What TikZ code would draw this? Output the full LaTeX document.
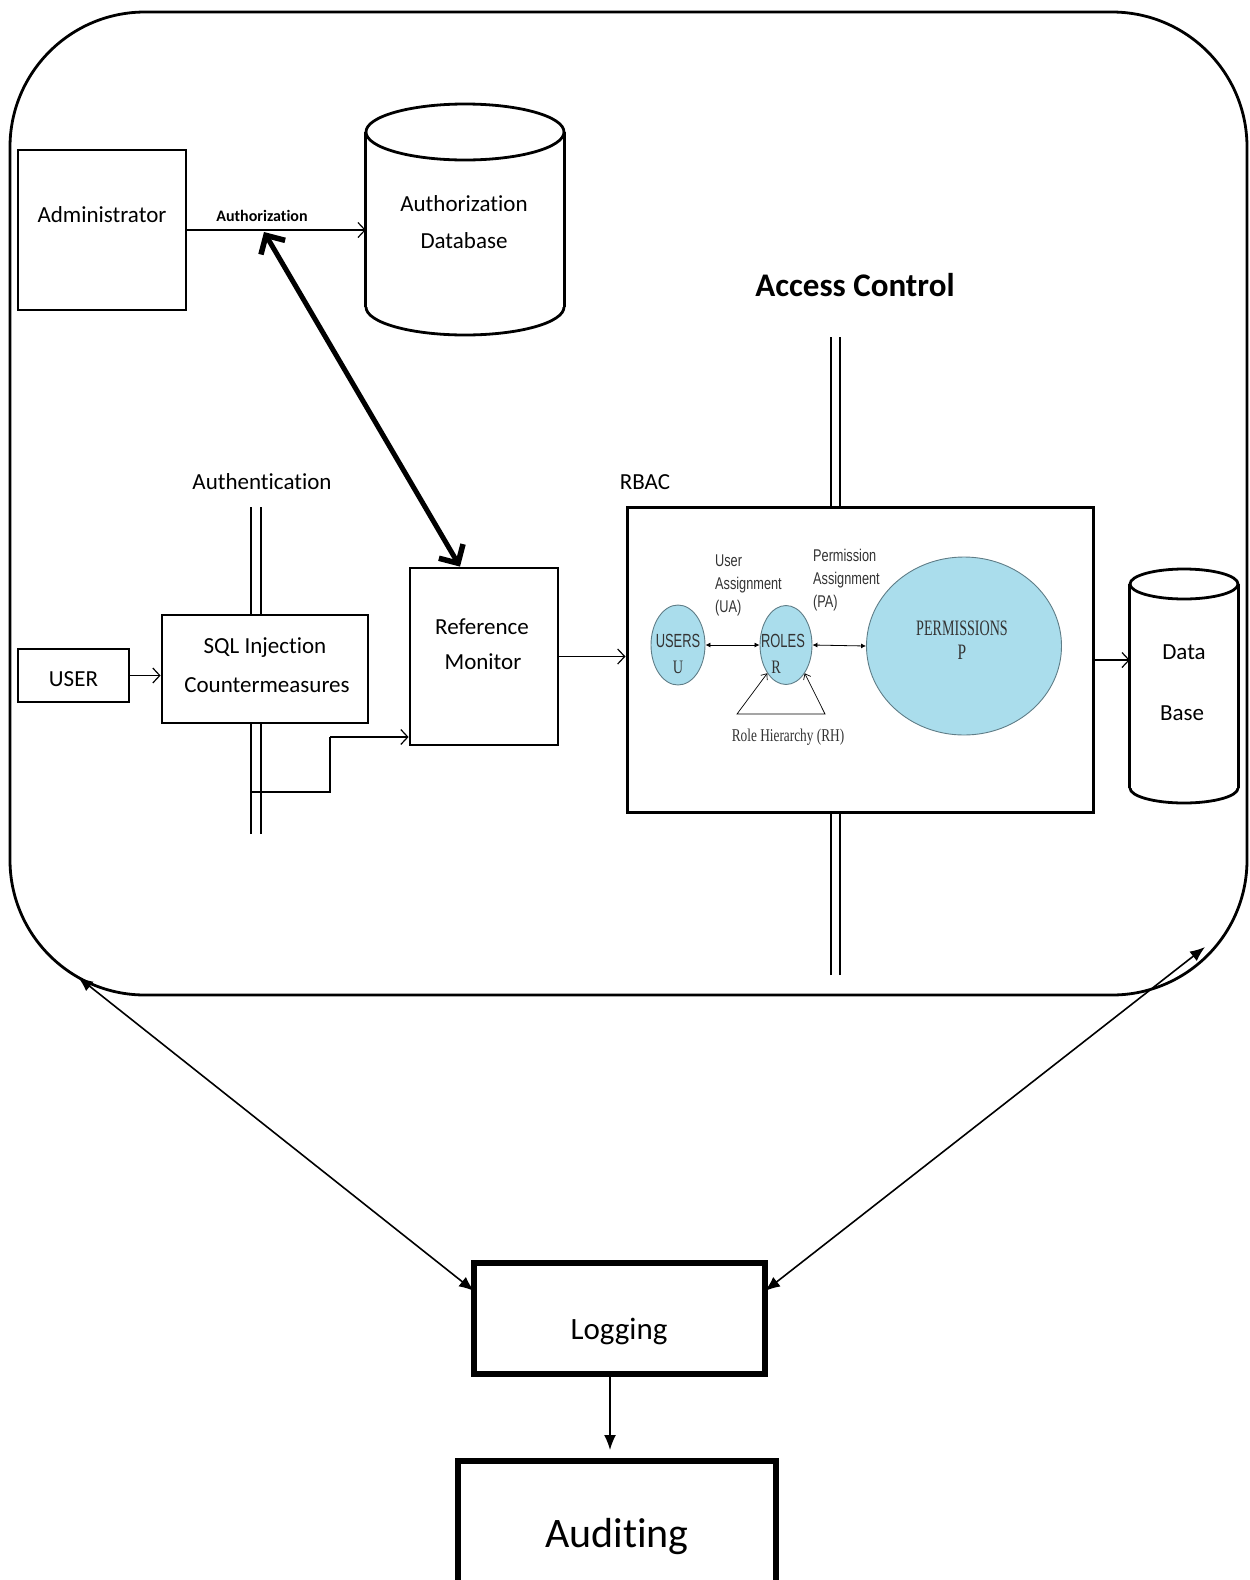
\documentclass[tikz,border=0pt]{standalone}
\usepackage{fontspec}
\setmainfont{Carlito}[Ligatures=NoCommon]
\newfontfamily\rbsans{Liberation Sans}
\newfontfamily\rbserif{Liberation Serif}
\usetikzlibrary{arrows.meta,shapes.geometric}
\definecolor{rbfill}{RGB}{170,221,236}
\definecolor{rbedge}{RGB}{95,125,135}
\begin{document}
\begin{tikzpicture}[x=1pt,y=-1pt,
  blk/.style={draw, line width=2.8pt, inner sep=0pt},
  txt/.style={inner sep=0pt, font=\fontsize{23pt}{28pt}\selectfont},
  thinarr/.style={line width=1.3pt, -{Straight Barb[length=7pt,width=15pt,line width=1.2pt]}},
  bigarr/.style={line width=1.6pt, {Latex[length=15pt,width=12pt]}-{Latex[length=15pt,width=12pt]}},
  rbell/.style={ellipse, draw=rbedge, fill=rbfill, line width=0.9pt, inner sep=0pt},
  rbarr/.style={line width=0.8pt, {Latex[length=5pt,width=5pt]}-{Latex[length=5pt,width=5pt]}},
  rbtxt/.style={inner sep=0pt, text=black!80},
  dline/.style={line width=1.3pt}
]
\useasboundingbox (0,0) rectangle (1250,1580);

% outer frame
\node[draw, line width=2.8pt, rounded corners=135pt, minimum width=1237pt, minimum height=983pt, inner sep=0pt] (frame) at (628.5,503.5) {};

% Administrator
\node[blk, minimum width=168pt, minimum height=160pt] (admin) at (102,230) {};
\node[txt] (admintxt) at (102,215) {Administrator};

% Authorization database (cylinder)
\node[inner sep=0pt, minimum width=198pt, minimum height=231pt] (authdb) at (465,219.5) {};
\draw[line width=2.8pt] (authdb.west |- 0,132) -- (authdb.west |- 0,307) (authdb.east |- 0,132) -- (authdb.east |- 0,307);
\draw[line width=2.8pt] (465,132) ellipse [x radius=99, y radius=28];
\begin{scope}
  \clip (350,307) rectangle (580,345);
  \draw[line width=2.8pt] (465,307) ellipse [x radius=99, y radius=28];
\end{scope}
\node[txt] (authdbt1) at (464,204) {Authorization};
\node[txt] (authdbt2) at (464,241) {Database};

\draw[thinarr] (admin.east) -- (admin.east -| authdb.west);
\node[inner sep=0pt, font=\bfseries\fontsize{16pt}{18pt}\selectfont] (authlbl) at (262,216) {Authorization};

% Access control
\node[inner sep=0pt, font=\bfseries\fontsize{33pt}{38pt}\selectfont] (actitle) at (855,285) {Access Control};

% RBAC box
\node[inner sep=0pt, font=\fontsize{23pt}{28pt}\selectfont] (rbaclbl) at (645,482) {RBAC};
\node[draw, line width=3pt, inner sep=0pt, minimum width=466pt, minimum height=305pt] (rbac) at (860,659.5) {};
\coordinate (ac1a) at (831,337);
\coordinate (ac2a) at (840,337);
\coordinate (ac1b) at (831,975);
\coordinate (ac2b) at (840,975);
\draw[dline] (ac1a) -- (ac1a |- rbac.north) (ac2a) -- (ac2a |- rbac.north);
\draw[dline] (ac1b) -- (ac1b |- rbac.south) (ac2b) -- (ac2b |- rbac.south);

% Authentication
\node[txt] (authnlbl) at (262,482) {Authentication};
\node[blk, minimum width=111pt, minimum height=53pt] (user) at (73.5,675.5) {};
\node[txt] (usertxt) at (73.5,679) {USER};
\node[blk, minimum width=206pt, minimum height=108pt] (sql) at (265,669) {};
\node[txt] (sqlt1) at (265,648) {SQL Injection};
\node[txt] (sqlt2) at (267,685) {Countermeasures};
\coordinate (au1a) at (251,507);
\coordinate (au2a) at (261,507);
\coordinate (au1b) at (251,834);
\coordinate (au2b) at (261,834);
\draw[dline] (au1a) -- (au1a |- sql.north) (au2a) -- (au2a |- sql.north);
\draw[dline] (au1b) -- (au1b |- sql.south) (au2b) -- (au2b |- sql.south);

\draw[thinarr] (user.east) -- (user.east -| sql.west);

% Reference monitor
\node[blk, minimum width=148pt, minimum height=177pt] (refmon) at (484,656.5) {};
\node[txt] (reft1) at (482,627) {Reference};
\node[txt] (reft2) at (483,662) {Monitor};

\coordinate (authtap) at (251,792);
\coordinate (elbow) at (330,737);
\draw[line width=1.3pt] (authtap) -| (elbow);
\draw[thinarr] (elbow) -- (elbow -| refmon.west);

% thick double arrow
\coordinate (authpt) at (264,232);
\coordinate (refpt) at ([xshift=-24pt]refmon.north);
\draw[line width=5pt, {Straight Barb[length=14pt,width=28pt,line width=5.5pt]}-{Straight Barb[length=14pt,width=28pt,line width=5.5pt]}] (authpt) -- (refpt);

\draw[thinarr] (refmon.east) -- (refmon.east -| rbac.west);

% RBAC inside
\node[rbell, minimum width=54pt, minimum height=80pt] (users) at (678,645) {};
\node[rbell, minimum width=52pt, minimum height=79pt] (roles) at (786,645) {};
\node[rbell, minimum width=195pt, minimum height=178pt] (perms) at (964,646) {};
\draw[rbarr] (users.east) -- (roles.west);
\draw[rbarr] (roles.east) -- (perms.west);
\node[rbtxt, font=\rbsans\fontsize{19pt}{22pt}\selectfont, xscale=0.68] (userst) at (678,641) {USERS};
\node[rbtxt, font=\rbserif\fontsize{19pt}{22pt}\selectfont, xscale=0.75] (ut) at (678,667) {U};
\node[rbtxt, font=\rbsans\fontsize{19pt}{22pt}\selectfont, xscale=0.68] (rolest) at (783,641) {ROLES};
\node[rbtxt, font=\rbserif\fontsize{19pt}{22pt}\selectfont, xscale=0.75] (rt) at (776,667) {R};
\node[rbtxt, font=\rbserif\fontsize{22pt}{25pt}\selectfont, xscale=0.64] (permt) at (962,628) {PERMISSIONS};
\node[rbtxt, font=\rbserif\fontsize{22pt}{25pt}\selectfont, xscale=0.7] (pt) at (962,652) {P};
\node[rbtxt, anchor=west, align=left, font=\rbsans\fontsize{17pt}{23pt}\selectfont, xscale=0.75] (uat) at (715,585) {User\\Assignment\\(UA)};
\node[rbtxt, anchor=west, align=left, font=\rbsans\fontsize{17pt}{23pt}\selectfont, xscale=0.75] (pat) at (813,580) {Permission\\Assignment\\(PA)};
\coordinate (rhl) at (737,714);
\coordinate (rhr) at (825,714);
\draw[line width=0.7pt, {Straight Barb[length=5pt,width=8pt]}-{Straight Barb[length=5pt,width=8pt]}] (roles.south west) -- (rhl) -- (rhr) -- (roles.south east);
\node[rbtxt, font=\rbserif\fontsize{18pt}{21pt}\selectfont, xscale=0.74] (rht) at (788,737) {Role Hierarchy (RH)};

% Data Base cylinder
\node[inner sep=0pt, minimum width=108pt, minimum height=234pt] (db) at (1184,686) {};
\draw[line width=2.8pt] (db.west |- 0,584) -- (db.west |- 0,788) (db.east |- 0,584) -- (db.east |- 0,788);
\draw[line width=2.8pt] (1184,584) ellipse [x radius=54, y radius=15];
\begin{scope}
  \clip (1120,788) rectangle (1250,810);
  \draw[line width=2.8pt] (1184,788) ellipse [x radius=54, y radius=15];
\end{scope}
\node[txt] (dbt1) at (1184,652) {Data};
\node[txt] (dbt2) at (1182,713) {Base};
\coordinate (rbout) at (1093,660);
\draw[thinarr] (rbout) -- (rbout -| db.west);

% Logging and auditing
\node[draw, line width=5.5pt, inner sep=0pt, minimum width=291pt, minimum height=111pt] (logging) at (619.5,1318.5) {};
\node[inner sep=0pt, font=\fontsize{31pt}{36pt}\selectfont] (logt) at (619,1331) {Logging};
\node[draw, line width=6.5pt, inner sep=0pt, minimum width=318pt, minimum height=130pt] (audit) at (617,1526) {};
\node[inner sep=0pt, font=\fontsize{42pt}{48pt}\selectfont] (audt) at (617,1537) {Auditing};
\coordinate (logbot) at (610,1374);
\coordinate (audtop) at (610,1450);
\draw[line width=1.6pt, -{Latex[length=15pt,width=12pt]}] (logbot) -- (audtop);

\coordinate (fl) at (78,977);
\coordinate (fr) at (1205,947);
\coordinate (logl) at (474,1291);
\coordinate (logr) at (765,1291);
\draw[bigarr] (fl) -- (logl);
\draw[bigarr] (fr) -- (logr);
\end{tikzpicture}
\end{document}
